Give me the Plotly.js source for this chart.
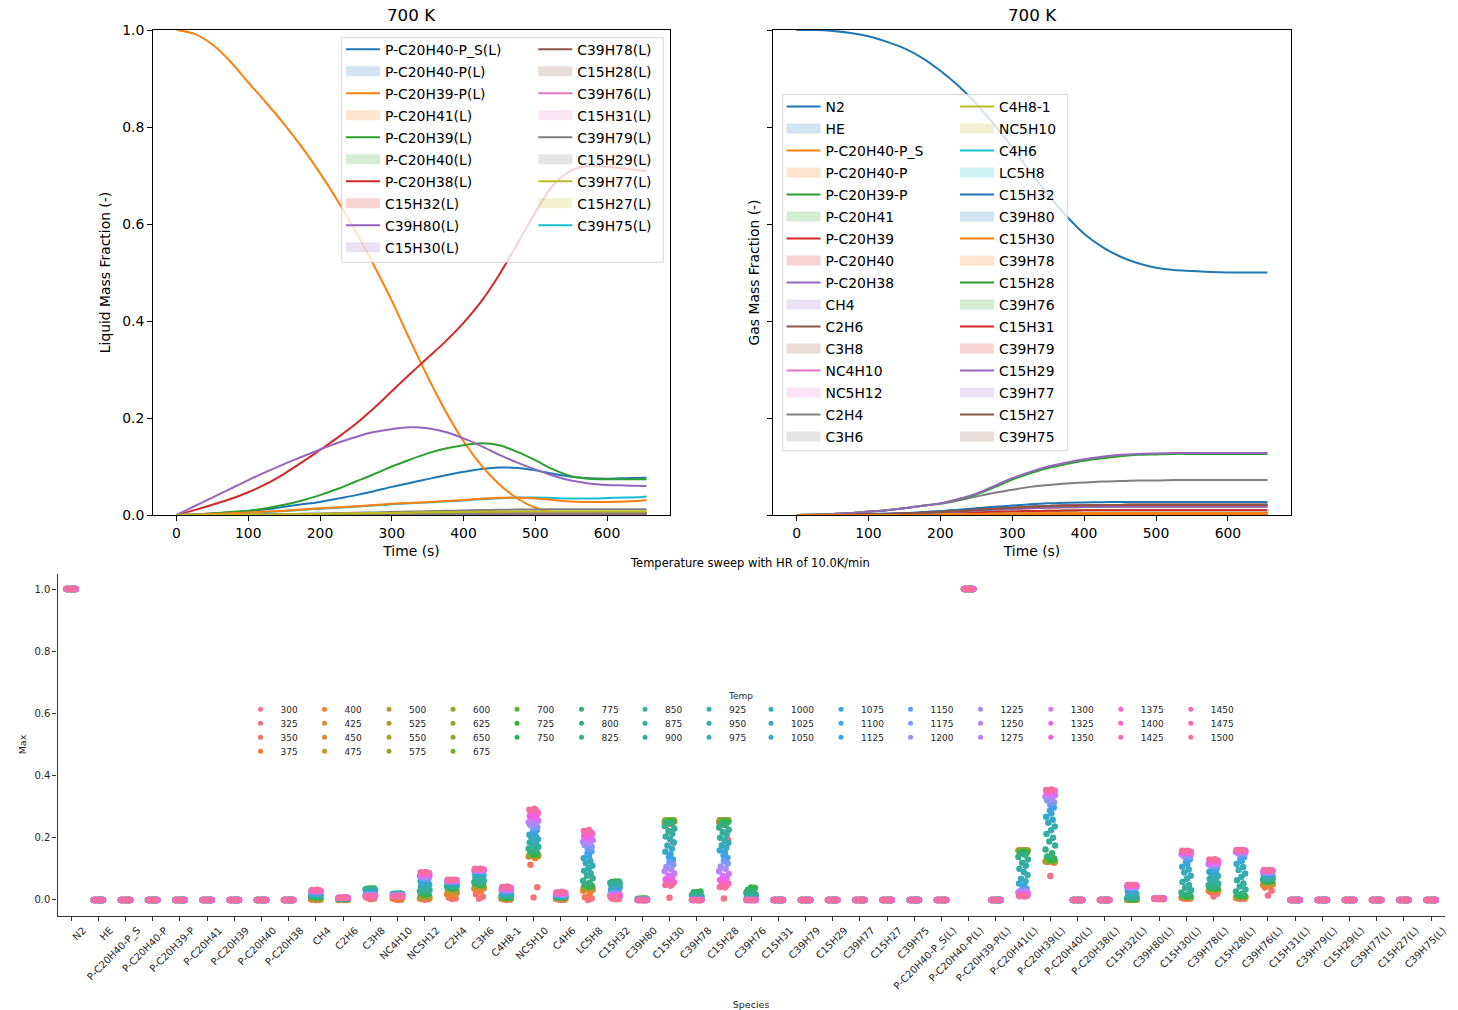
<!DOCTYPE html>
<html><head><meta charset="utf-8">
<script src="https://cdn.plot.ly/plotly-3.0.1.min.js"></script>
<style>html,body{margin:0;padding:0;background:#fff}#chart{width:1458px;height:1010px}</style>
</head><body><div id="chart"></div>
<script>
// ================= DATA =================
// --- top panels: time axis (s)
const timeS = [0,25,50,75,100,125,150,175,200,225,250,275,300,325,350,375,400,425,450,475,500,525,550,575,600,625,650,655];

const liqNames = ['P-C20H40-P_S(L)','P-C20H40-P(L)','P-C20H39-P(L)','P-C20H41(L)','P-C20H39(L)','P-C20H40(L)','P-C20H38(L)','C15H32(L)','C39H80(L)','C15H30(L)','C39H78(L)','C15H28(L)','C39H76(L)','C15H31(L)','C39H79(L)','C15H29(L)','C39H77(L)','C15H27(L)','C39H75(L)'];
const gasNames = ['N2','HE','P-C20H40-P_S','P-C20H40-P','P-C20H39-P','P-C20H41','P-C20H39','P-C20H40','P-C20H38','CH4','C2H6','C3H8','NC4H10','NC5H12','C2H4','C3H6','C4H8-1','NC5H10','C4H6','LC5H8','C15H32','C39H80','C15H30','C39H78','C15H28','C39H76','C15H31','C39H79','C15H29','C39H77','C15H27','C39H75'];

// liquid mass fraction curves (700 K)
const liqBlue = [0,0.001,0.003,0.005,0.008,0.012,0.017,0.022,0.027,0.034,0.041,0.049,0.058,0.066,0.074,0.082,0.089,0.095,0.098,0.097,0.092,0.085,0.079,0.076,0.075,0.076,0.077,0.077];
const liqOrangeBig = [1.0,0.992,0.97,0.935,0.892,0.85,0.806,0.758,0.705,0.647,0.584,0.515,0.442,0.362,0.285,0.214,0.152,0.102,0.063,0.034,0.015,0.005,0.001,0,0,0,0,0];
const liqGreen = [0,0.001,0.0034,0.006,0.009,0.014,0.021,0.03,0.041,0.054,0.069,0.084,0.1,0.114,0.127,0.137,0.144,0.148,0.144,0.13,0.113,0.094,0.08,0.075,0.0737,0.0735,0.0735,0.0735];
const liqRed = [0,0.01,0.021,0.033,0.047,0.064,0.085,0.109,0.134,0.16,0.188,0.22,0.255,0.29,0.324,0.358,0.396,0.441,0.496,0.559,0.624,0.68,0.71,0.72,0.718,0.714,0.71,0.709];
const liqPurple = [0,0.018,0.036,0.054,0.072,0.089,0.105,0.12,0.135,0.149,0.161,0.171,0.177,0.181,0.179,0.171,0.158,0.142,0.124,0.108,0.094,0.081,0.071,0.065,0.062,0.061,0.06,0.06];
const liqGray = [0,0,0.0003,0.0006,0.001,0.0015,0.002,0.0026,0.0033,0.004,0.0047,0.0054,0.0062,0.007,0.0078,0.0086,0.0094,0.0101,0.0107,0.0112,0.0115,0.0117,0.0118,0.0119,0.012,0.012,0.012,0.012];
const liqOlive = [0,0,0.0002,0.0004,0.0007,0.001,0.0014,0.0018,0.0022,0.0027,0.0032,0.0037,0.0042,0.0047,0.0052,0.0057,0.0061,0.0065,0.0068,0.007,0.0071,0.0072,0.0072,0.0072,0.0073,0.0073,0.0073,0.0073];
const liqCyan = [0,0.0008,0.0018,0.003,0.0045,0.0063,0.0082,0.0105,0.0128,0.015,0.0172,0.0195,0.022,0.024,0.026,0.028,0.03,0.0325,0.0345,0.036,0.036,0.035,0.034,0.034,0.035,0.036,0.037,0.038];
const liqOrangeSmall = [0,0.001,0.002,0.0035,0.005,0.007,0.009,0.0115,0.014,0.016,0.018,0.0205,0.023,0.025,0.027,0.029,0.031,0.0335,0.0355,0.0355,0.034,0.031,0.028,0.027,0.027,0.028,0.03,0.031];
const liqTiny = [0,0,0,0.0001,0.0002,0.0003,0.0004,0.0006,0.0008,0.001,0.0012,0.0014,0.0016,0.0018,0.002,0.0022,0.0024,0.0026,0.0028,0.003,0.0031,0.0032,0.0033,0.0033,0.0034,0.0034,0.0034,0.0034];

// gas mass fraction curves (700 K)
const gasN2 = [1,0.9998,0.998,0.994,0.987,0.976,0.962,0.942,0.916,0.885,0.848,0.805,0.758,0.708,0.66,0.617,0.58,0.553,0.533,0.519,0.51,0.505,0.503,0.501,0.5,0.5,0.5,0.5];
const gasPurple = [0,0.001,0.002,0.004,0.007,0.01,0.014,0.019,0.024,0.033,0.044,0.06,0.076,0.089,0.1,0.108,0.115,0.12,0.124,0.126,0.127,0.128,0.128,0.128,0.128,0.128,0.128,0.128];
const gasGreen = [0,0.001,0.002,0.004,0.007,0.01,0.014,0.019,0.024,0.032,0.042,0.057,0.073,0.086,0.097,0.105,0.112,0.117,0.121,0.124,0.125,0.126,0.126,0.126,0.126,0.126,0.126,0.126];
const gasGray = [0,0.001,0.002,0.004,0.007,0.01,0.014,0.019,0.023,0.03,0.038,0.046,0.052,0.058,0.062,0.065,0.067,0.069,0.07,0.071,0.071,0.072,0.072,0.072,0.072,0.072,0.072,0.072];
const gasA = [0,0,0.0005,0.001,0.002,0.003,0.004,0.006,0.008,0.011,0.014,0.017,0.0195,0.022,0.024,0.0255,0.026,0.0265,0.027,0.027,0.027,0.027,0.027,0.027,0.027,0.027,0.027,0.027];
const gasB = [0,0,0.0004,0.0008,0.0015,0.0023,0.0031,0.0045,0.006,0.0083,0.0107,0.013,0.015,0.0168,0.0183,0.0194,0.0201,0.0205,0.0208,0.021,0.021,0.021,0.021,0.021,0.021,0.021,0.021,0.021];
const gasC = [0,0,0.0003,0.0006,0.0012,0.0019,0.0025,0.0037,0.005,0.0068,0.0088,0.0107,0.0123,0.0137,0.0149,0.0158,0.0164,0.0167,0.0169,0.017,0.017,0.017,0.017,0.017,0.017,0.017,0.017,0.017];
const gasD = [0,0,0.0002,0.0004,0.0007,0.0011,0.0015,0.0022,0.003,0.004,0.0052,0.0063,0.0072,0.008,0.0087,0.0092,0.0096,0.0098,0.0099,0.01,0.01,0.01,0.01,0.01,0.01,0.01,0.01,0.01];
const gasTiny = [0,0,0.0001,0.0002,0.0003,0.0004,0.0006,0.0009,0.0012,0.0016,0.0021,0.0025,0.0029,0.0032,0.0035,0.0037,0.0038,0.0039,0.004,0.004,0.004,0.004,0.004,0.004,0.004,0.004,0.004,0.004];
const gasZero = [0,0,0,0,0,0,0,0,0,0,0,0,0,0,0,0,0,0,0,0,0,0,0,0,0,0,0,0];

const liqCurves = [liqBlue,liqOrangeBig,liqGreen,liqRed,liqPurple,liqTiny,liqTiny,liqGray,liqOlive,liqCyan,liqTiny,liqOrangeSmall,liqTiny,liqTiny,liqTiny,liqTiny,liqTiny,liqTiny,liqOlive];
const gasCurves = [gasN2,gasZero,gasZero,gasZero,gasZero,gasZero,gasZero,gasZero,gasZero,
  gasTiny,gasTiny,gasC,gasD,gasD,gasC,gasB,gasTiny,gasGray,gasTiny,gasB,gasA,gasTiny,gasGreen,gasB,gasPurple,gasB,
  gasZero,gasZero,gasZero,gasZero,gasZero,gasZero];

// --- bottom panel: temperature sweep, max mass fraction per species
const temps = [300,325,350,375,400,425,450,475,500,525,550,575,600,625,650,675,700,725,750,775,800,825,850,875,900,925,950,975,1000,1025,1050,1075,1100,1125,1150,1175,1200,1225,1250,1275,1300,1325,1350,1375,1400,1425,1450,1475,1500];
const species = gasNames.concat(liqNames);

const maxOne = [1,1,1,1, 1,1,1,1, 1,1,1,1, 1,1,1,1,
  1,1,1, 1,1,1, 1,1,1, 1,1,1, 1,1,1, 1,1,1, 1,1,1, 1,1,1, 1,1,1, 1,1,1, 1,1,1];
const maxZero = [0,0,0,0, 0,0,0,0, 0,0,0,0, 0,0,0,0,
  0,0,0, 0,0,0, 0,0,0, 0,0,0, 0,0,0, 0,0,0, 0,0,0, 0,0,0, 0,0,0, 0,0,0, 0,0,0];
const maxCH4 = [0,0,0.0005,0.001, 0.0015,0.002,0.0025,0.003, 0.0035,0.004,0.0045,0.005, 0.0055,0.006,0.0065,0.007,
  0.0075,0.008,0.009, 0.01,0.011,0.012, 0.013,0.014,0.015, 0.016,0.017,0.018, 0.019,0.02,0.021, 0.022,0.023,0.024, 0.025,0.0255,0.026, 0.027,0.0275,0.028, 0.0285,0.029,0.0295, 0.03,0.0305,0.031, 0.0315,0.032,0.0325];
const maxC2H6 = [0,0,0,0, 0,0.0005,0.0005,0.001, 0.001,0.0015,0.0015,0.002, 0.002,0.0025,0.0025,0.003,
  0.003,0.0035,0.0035, 0.004,0.004,0.0045, 0.0045,0.005,0.005, 0.0052,0.0054,0.0056, 0.0058,0.006,0.006, 0.0062,0.0062,0.0064, 0.0064,0.0065,0.0066, 0.0066,0.0067,0.0068, 0.0068,0.0069,0.007, 0.007,0.007,0.0071, 0.0071,0.0072,0.0072];
const maxC3H8 = [0.002,0.004,0.006,0.008, 0.011,0.014,0.017,0.019, 0.022,0.025,0.027,0.029, 0.031,0.033,0.034,0.035,
  0.036,0.037,0.037, 0.036,0.035,0.034, 0.032,0.031,0.029, 0.028,0.026,0.025, 0.023,0.022,0.021, 0.02,0.019,0.018, 0.017,0.016,0.016, 0.015,0.014,0.014, 0.013,0.013,0.012, 0.012,0.011,0.011, 0.011,0.01,0.01];
const maxNC4H10 = [0,0.001,0.002,0.003, 0.005,0.007,0.009,0.011, 0.013,0.014,0.015,0.016, 0.017,0.018,0.019,0.0195,
  0.02,0.02,0.02, 0.0198,0.0196,0.0194, 0.019,0.0188,0.0186, 0.018,0.0178,0.0176, 0.017,0.0168,0.0165, 0.016,0.0158,0.0155, 0.015,0.0148,0.0145, 0.014,0.0138,0.0135, 0.013,0.0128,0.0126, 0.0124,0.0122,0.012, 0.012,0.0118,0.0116];
const maxNC5H12 = [0.001,0.002,0.003,0.004, 0.005,0.006,0.007,0.008, 0.009,0.01,0.011,0.012, 0.013,0.014,0.015,0.016,
  0.018,0.019,0.02, 0.022,0.025,0.028, 0.032,0.036,0.04, 0.044,0.047,0.05, 0.053,0.056,0.059, 0.062,0.064,0.066, 0.068,0.07,0.072, 0.074,0.076,0.078, 0.08,0.082,0.083, 0.085,0.086,0.087, 0.088,0.089,0.09];
const maxC2H4 = [0.003,0.005,0.008,0.012, 0.018,0.022,0.025,0.027, 0.029,0.031,0.032,0.033, 0.034,0.035,0.036,0.036,
  0.037,0.038,0.039, 0.04,0.042,0.044, 0.046,0.048,0.05, 0.051,0.052,0.053, 0.054,0.055,0.056, 0.057,0.058,0.058, 0.059,0.06,0.06, 0.061,0.061,0.062, 0.062,0.063,0.063, 0.063,0.064,0.064, 0.064,0.065,0.065];
const maxC3H6 = [0.004,0.01,0.018,0.028, 0.036,0.038,0.04,0.042, 0.043,0.044,0.045,0.046, 0.046,0.047,0.047,0.048,
  0.048,0.049,0.05, 0.052,0.055,0.058, 0.062,0.066,0.07, 0.074,0.077,0.08, 0.083,0.085,0.087, 0.089,0.09,0.091, 0.092,0.093,0.094, 0.095,0.095,0.096, 0.096,0.097,0.097, 0.098,0.098,0.099, 0.099,0.1,0.1];
const maxC4H8_1 = [0,0.001,0.002,0.003, 0.004,0.004,0.005,0.005, 0.005,0.005,0.006,0.006, 0.006,0.006,0.006,0.006,
  0.006,0.007,0.008, 0.009,0.011,0.013, 0.015,0.017,0.019, 0.02,0.021,0.022, 0.023,0.024,0.025, 0.026,0.027,0.028, 0.029,0.03,0.031, 0.032,0.033,0.034, 0.035,0.036,0.037, 0.038,0.039,0.04, 0.041,0.042,0.043];
const maxNC5H10 = [0.008,0.041,0.113,0.135, 0.14,0.141,0.142,0.142, 0.142,0.143,0.143,0.143, 0.143,0.143,0.144,0.145,
  0.146,0.148,0.15, 0.155,0.16,0.165, 0.17,0.175,0.18, 0.185,0.19,0.195, 0.2,0.205,0.21, 0.215,0.22,0.225, 0.23,0.235,0.24, 0.245,0.25,0.255, 0.26,0.265,0.27, 0.275,0.28,0.285, 0.288,0.29,0.293];
const maxC4H6 = [0,0.001,0.002,0.003, 0.003,0.004,0.004,0.005, 0.005,0.005,0.006,0.006, 0.006,0.007,0.007,0.007,
  0.008,0.008,0.009, 0.009,0.01,0.01, 0.011,0.011,0.012, 0.012,0.013,0.013, 0.014,0.014,0.015, 0.015,0.016,0.016, 0.017,0.017,0.018, 0.019,0.019,0.02, 0.021,0.021,0.022, 0.023,0.023,0.024, 0.025,0.025,0.026];
const maxLC5H8 = [0,0.005,0.0085,0.02, 0.03,0.033,0.035,0.037, 0.038,0.039,0.04,0.04, 0.041,0.041,0.042,0.042,
  0.043,0.044,0.046, 0.05,0.055,0.062, 0.07,0.078,0.086, 0.094,0.102,0.11, 0.118,0.126,0.134, 0.142,0.15,0.157, 0.164,0.17,0.176, 0.182,0.187,0.192, 0.197,0.201,0.205, 0.209,0.213,0.216, 0.219,0.222,0.225];
const maxC15H32 = [0.002,0.003,0.005,0.008, 0.012,0.016,0.02,0.025, 0.03,0.035,0.04,0.045, 0.049,0.052,0.055,0.057,
  0.058,0.059,0.059, 0.058,0.057,0.055, 0.053,0.051,0.048, 0.045,0.042,0.039, 0.036,0.033,0.031, 0.028,0.026,0.024, 0.022,0.02,0.019, 0.017,0.016,0.015, 0.014,0.013,0.012, 0.011,0.01,0.009, 0.008,0.008,0.007];
const maxC39H80 = [0,0,0,0, 0,0,0,0, 0.001,0.001,0.002,0.002, 0.003,0.003,0.004,0.004,
  0.005,0.005,0.004, 0.004,0.003,0.003, 0.002,0.002,0.002, 0.001,0.001,0.001, 0.001,0.001,0, 0,0,0, 0,0,0, 0,0,0, 0,0,0, 0,0,0, 0,0,0];
const maxC15H30 = [0.007,0.185,0.24,0.248, 0.25,0.252,0.253,0.254, 0.255,0.255,0.256,0.256, 0.256,0.256,0.255,0.255,
  0.254,0.253,0.252, 0.25,0.245,0.238, 0.23,0.222,0.213, 0.204,0.195,0.185, 0.175,0.165,0.155, 0.146,0.138,0.13, 0.122,0.114,0.106, 0.099,0.092,0.085, 0.078,0.072,0.066, 0.061,0.057,0.053, 0.05,0.048,0.046];
const maxC39H78 = [0,0,0,0, 0,0.001,0.002,0.003, 0.005,0.007,0.009,0.011, 0.013,0.015,0.017,0.019,
  0.022,0.025,0.027, 0.025,0.02,0.016, 0.012,0.009,0.007, 0.005,0.004,0.003, 0.002,0.002,0.001, 0.001,0.001,0, 0,0,0, 0,0,0, 0,0,0, 0,0,0, 0,0,0];
const maxC15H28 = [0.005,0.195,0.24,0.248, 0.251,0.253,0.254,0.255, 0.256,0.256,0.256,0.256, 0.256,0.256,0.255,0.254,
  0.253,0.252,0.25, 0.246,0.24,0.233, 0.226,0.218,0.21, 0.2,0.192,0.184, 0.176,0.168,0.16, 0.152,0.144,0.136, 0.126,0.117,0.108, 0.1,0.092,0.084, 0.077,0.07,0.064, 0.058,0.053,0.049, 0.045,0.042,0.04];
const maxC39H76 = [0,0,0,0.001, 0.002,0.004,0.006,0.008, 0.011,0.014,0.017,0.02, 0.024,0.028,0.032,0.036,
  0.039,0.04,0.038, 0.033,0.027,0.022, 0.017,0.013,0.01, 0.007,0.005,0.004, 0.003,0.002,0.001, 0.001,0,0, 0,0,0, 0,0,0, 0,0,0, 0,0,0, 0,0,0];
const maxPC20H41_L = [0.159,0.159,0.159,0.159, 0.159,0.159,0.159,0.159, 0.159,0.159,0.158,0.158, 0.158,0.157,0.157,0.156,
  0.155,0.154,0.152, 0.15,0.145,0.138, 0.13,0.12,0.11, 0.1,0.09,0.08, 0.068,0.06,0.053, 0.045,0.04,0.036, 0.033,0.03,0.028, 0.026,0.024,0.022, 0.02,0.018,0.017, 0.015,0.014,0.013, 0.012,0.012,0.011];
const maxPC20H39_L = [0.077,0.12,0.122,0.123, 0.124,0.124,0.125,0.125, 0.125,0.125,0.125,0.125, 0.125,0.126,0.126,0.127,
  0.128,0.13,0.133, 0.14,0.15,0.162, 0.175,0.188,0.2, 0.212,0.224,0.236, 0.248,0.258,0.268, 0.278,0.288,0.297, 0.306,0.314,0.321, 0.327,0.332,0.337, 0.341,0.344,0.347, 0.349,0.351,0.352, 0.353,0.354,0.355];
const maxC15H32_L = [0.001,0.001,0.001,0.001, 0.001,0.001,0.001,0.001, 0.001,0.001,0.001,0.002, 0.002,0.002,0.002,0.002,
  0.002,0.003,0.003, 0.004,0.005,0.006, 0.008,0.01,0.012, 0.014,0.017,0.02, 0.023,0.026,0.029, 0.032,0.034,0.036, 0.038,0.04,0.041, 0.042,0.043,0.044, 0.045,0.046,0.046, 0.047,0.047,0.048, 0.048,0.048,0.049];
const maxC39H80_L = [0.002,0.002,0.003,0.003, 0.003,0.003,0.004,0.004, 0.004,0.004,0.004,0.004, 0.005,0.005,0.005,0.005,
  0.005,0.005,0.005, 0.005,0.005,0.005, 0.005,0.005,0.005, 0.005,0.005,0.005, 0.005,0.005,0.005, 0.005,0.005,0.005, 0.005,0.005,0.005, 0.005,0.005,0.005, 0.005,0.005,0.005, 0.005,0.005,0.005, 0.005,0.005,0.005];
const maxC15H30_L = [0.003,0.004,0.005,0.006, 0.007,0.008,0.008,0.009, 0.009,0.01,0.01,0.01, 0.01,0.011,0.011,0.011,
  0.011,0.012,0.013, 0.015,0.019,0.024, 0.031,0.039,0.048, 0.058,0.068,0.078, 0.088,0.098,0.107, 0.116,0.124,0.13, 0.135,0.139,0.142, 0.145,0.147,0.149, 0.151,0.152,0.153, 0.154,0.155,0.156, 0.157,0.158,0.158];
const maxC39H78_L = [0.011,0.02,0.025,0.028, 0.03,0.031,0.032,0.033, 0.034,0.034,0.035,0.035, 0.036,0.036,0.036,0.037,
  0.037,0.037,0.038, 0.04,0.043,0.047, 0.052,0.057,0.062, 0.067,0.072,0.077, 0.082,0.087,0.091, 0.095,0.099,0.103, 0.106,0.109,0.111, 0.113,0.115,0.117, 0.119,0.121,0.123, 0.125,0.126,0.128, 0.129,0.13,0.131];
const maxC15H28_L = [0.003,0.004,0.005,0.006, 0.007,0.008,0.009,0.009, 0.01,0.01,0.011,0.011, 0.011,0.012,0.012,0.012,
  0.013,0.013,0.014, 0.017,0.021,0.027, 0.034,0.043,0.053, 0.063,0.074,0.085, 0.096,0.106,0.116, 0.125,0.132,0.138, 0.143,0.147,0.15, 0.152,0.154,0.155, 0.156,0.157,0.158, 0.159,0.159,0.16, 0.16,0.161,0.161];
const maxC39H76_L = [0.014,0.03,0.04,0.046, 0.048,0.05,0.052,0.053, 0.054,0.055,0.056,0.057, 0.058,0.058,0.059,0.059,
  0.06,0.06,0.061, 0.062,0.064,0.066, 0.068,0.07,0.072, 0.074,0.076,0.078, 0.08,0.081,0.083, 0.084,0.085,0.086, 0.087,0.088,0.089, 0.09,0.091,0.092, 0.092,0.093,0.094, 0.094,0.095,0.095, 0.096,0.096,0.096];

const maxBySpecies = [
  maxOne, maxZero, maxZero, maxZero, maxZero, maxZero, maxZero, maxZero, maxZero,
  maxCH4, maxC2H6, maxC3H8, maxNC4H10, maxNC5H12, maxC2H4, maxC3H6, maxC4H8_1, maxNC5H10, maxC4H6, maxLC5H8,
  maxC15H32, maxC39H80, maxC15H30, maxC39H78, maxC15H28, maxC39H76,
  maxZero, maxZero, maxZero, maxZero, maxZero, maxZero,
  maxZero, maxOne, maxZero, maxPC20H41_L, maxPC20H39_L, maxZero, maxZero,
  maxC15H32_L, maxC39H80_L, maxC15H30_L, maxC39H78_L, maxC15H28_L, maxC39H76_L,
  maxZero, maxZero, maxZero, maxZero, maxZero, maxZero];

// ================= STYLE HELPERS =================
const W = 1458, H = 1010;
const FONT = 'DejaVu Sans, Liberation Sans, sans-serif';
const tab10 = ['#1f77b4','#ff7f0e','#2ca02c','#d62728','#9467bd','#8c564b','#e377c2','#7f7f7f','#bcbd22','#17becf'];
function fade(hex, a) {
  const r = parseInt(hex.slice(1,3),16), g = parseInt(hex.slice(3,5),16), b = parseInt(hex.slice(5,7),16);
  return 'rgba(' + r + ',' + g + ',' + b + ',' + a + ')';
}
const px = x => x / W;
const py = y => 1 - y / H;

// seaborn husl palette
const HM = [[3.2406,-1.5372,-0.4986],[-0.9689,1.8758,0.0415],[0.0557,-0.2040,1.0570]];
function maxChroma(L, Hh) {
  const hrad = Hh * Math.PI / 180, sinH = Math.sin(hrad), cosH = Math.cos(hrad);
  const sub1 = Math.pow(L + 16, 3) / 1560896.0;
  const sub2 = sub1 > 0.008856 ? sub1 : L / 903.3;
  let result = Infinity;
  for (const row of HM) {
    const m1 = row[0], m2 = row[1], m3 = row[2];
    const top = (0.99915*m1 + 1.05122*m2 + 1.14460*m3) * sub2;
    const rb = 0.86330*m3 - 0.17266*m2, lb = 0.12949*m3 - 0.38848*m1;
    const bottom = (rb*sinH + lb*cosH) * sub2;
    for (const t of [0, 1]) {
      const C = L * (top - 1.05122*t) / (bottom + 0.17266*sinH*t);
      if (C > 0 && C < result) result = C;
    }
  }
  return result;
}
function husl2hex(Hh, S, L) {
  const C = maxChroma(L, Hh) / 100 * S;
  const hr = Hh * Math.PI / 180, U = Math.cos(hr)*C, V = Math.sin(hr)*C;
  const t = (L + 16) / 116;
  const Y = Math.pow(t,3) > 0.008856 ? Math.pow(t,3) : (116*t - 16) / 903.3;
  const vu = U/(13*L) + 0.19784, vv = V/(13*L) + 0.46834;
  const X = 0 - (9*Y*vu) / ((vu - 4)*vv - vu*vv);
  const Z = (9*Y - 15*vv*Y - vv*X) / (3*vv);
  const rgb = HM.map(r => r[0]*X + r[1]*Y + r[2]*Z).map(c => c <= 0.0031308 ? 12.92*c : 1.055*Math.pow(c, 1/2.4) - 0.055);
  return 'rgb(' + rgb.map(c => Math.round(Math.min(1, Math.max(0, c))*255)).join(',') + ')';
}
const tempColors = temps.map((_, i) => husl2hex(((i / temps.length + 0.01) % 1) * 359, 0.9*99, 0.65*99));

// ================= TRACES =================
const traces = [];
liqNames.forEach((n, k) => traces.push({
  type: 'scatter', mode: 'lines', x: timeS, y: liqCurves[k], xaxis: 'x', yaxis: 'y',
  line: {color: tab10[k % 10], width: 2, shape: 'spline', smoothing: 0.8}, showlegend: false, hoverinfo: 'skip'
}));
gasNames.forEach((n, k) => traces.push({
  type: 'scatter', mode: 'lines', x: timeS, y: gasCurves[k], xaxis: 'x2', yaxis: 'y2',
  line: {color: tab10[k % 10], width: 2, shape: 'spline', smoothing: 0.8}, showlegend: false, hoverinfo: 'skip'
}));

// legend-only entries (line / shaded band alternating, as in the reference)
function legendEntry(name, k, legendId, xa, ya) {
  const c = tab10[Math.floor(k / 2) % 10];
  const base = {type: 'scatter', x: [null], y: [null], xaxis: xa, yaxis: ya, name: name,
    legend: legendId, legendgroup: legendId + '_' + k, showlegend: true, hoverinfo: 'skip'};
  if (k % 2 === 0) return Object.assign(base, {mode: 'lines', line: {color: c, width: 2}});
  return Object.assign(base, {mode: 'lines', line: {color: fade(c, 0.2), width: 14}});
}
liqNames.forEach((n, k) => traces.push(legendEntry(n, k, k < 10 ? 'legend' : 'legend2', 'x', 'y')));
gasNames.forEach((n, k) => traces.push(legendEntry(n, k, k < 16 ? 'legend3' : 'legend4', 'x2', 'y2')));

// strip plot: one box trace (points only) per temperature
const pointPattern = [0, 0.55, -0.45, 0.25, -0.7, 0.7, -0.15, 0.4, -0.55, 0.1, 0.65, -0.3, 0.35, -0.6, 0.15, -0.05, 0.5];
temps.forEach((T, i) => {
  traces.push({
    type: 'box', x: species, y: maxBySpecies.map(arr => arr[i]), xaxis: 'x3', yaxis: 'y3',
    orientation: 'v', boxpoints: 'all', jitter: 0, pointpos: pointPattern[i % pointPattern.length],
    width: 0.5, fillcolor: 'rgba(0,0,0,0)', line: {width: 0, color: 'rgba(0,0,0,0)'}, whiskerwidth: 0,
    marker: {color: tempColors[i], size: 6.5, line: {width: 0}},
    showlegend: false, hoverinfo: 'skip', name: String(T)
  });
});

// strip legend (Temp), column-major like the reference
const legColX = [260.5, 324.5, 389, 453, 517, 581.5, 645, 709, 771, 841, 910.5, 980.5, 1050.8, 1120.8, 1190.8];
const legRowY = [709.3, 723.3, 737.3, 751.3];
const layoutLegends = {};
temps.forEach((T, i) => {
  let c, r;
  if (i < 16) { c = Math.floor(i / 4); r = i % 4; } else { c = 4 + Math.floor((i - 16) / 3); r = (i - 16) % 3; }
  const id = 'legend' + (5 + i);
  traces.push({type: 'scatter', mode: 'markers', x: [null], y: [null], xaxis: 'x3', yaxis: 'y3',
    name: String(T), legend: id, showlegend: true, hoverinfo: 'skip',
    marker: {color: tempColors[i], size: 5}});
  layoutLegends[id] = {x: px(legColX[c] - 20), xanchor: 'left', y: py(legRowY[r]), yanchor: 'middle',
    bgcolor: 'rgba(0,0,0,0)', borderwidth: 0, font: {family: FONT, size: 9, color: '#262626'}, itemwidth: 30};
});

// ================= LAYOUT =================
const topLegend = (xp, ytop) => ({x: px(xp), xanchor: 'left', y: py(ytop), yanchor: 'top',
  bgcolor: 'rgba(0,0,0,0)', borderwidth: 0, tracegroupgap: 0.93, itemwidth: 34,
  font: {family: FONT, size: 13.9, color: '#000'}});

const topAxisX = (dom, anchor) => ({domain: dom, anchor: anchor, range: [-32.75, 687.75],
  tickvals: [0,100,200,300,400,500,600], showline: true, mirror: true, linecolor: '#000', linewidth: 1,
  ticks: 'outside', ticklen: 5, tickwidth: 1, tickcolor: '#000', showgrid: false, zeroline: false,
  tickfont: {family: FONT, size: 13.9, color: '#000'},
  title: {text: 'Time (s)', font: {family: FONT, size: 13.9, color: '#000'}, standoff: 6}});
const topDomY = [py(515), py(30)];

const layout = Object.assign({
  width: W, height: H, margin: {l: 0, r: 0, t: 0, b: 0},
  paper_bgcolor: '#fff', plot_bgcolor: '#fff', showlegend: true, boxmode: 'overlay',
  font: {family: FONT, color: '#000'},
  xaxis: topAxisX([px(153), px(670)], 'y'),
  yaxis: {domain: topDomY, anchor: 'x', range: [0, 1], tickvals: [0,0.2,0.4,0.6,0.8,1.0], tickformat: '.1f',
    showline: true, mirror: true, linecolor: '#000', linewidth: 1, ticks: 'outside', ticklen: 5, tickwidth: 1,
    tickcolor: '#000', showgrid: false, zeroline: false, tickfont: {family: FONT, size: 13.9, color: '#000'},
    title: {text: 'Liquid Mass Fraction (-)', font: {family: FONT, size: 13.9, color: '#000'}, standoff: 8}},
  xaxis2: topAxisX([px(773), px(1291)], 'y2'),
  yaxis2: {domain: topDomY, anchor: 'x2', range: [0, 1], tickvals: [0,0.2,0.4,0.6,0.8,1.0], showticklabels: false,
    showline: true, mirror: true, linecolor: '#000', linewidth: 1, ticks: 'outside', ticklen: 5, tickwidth: 1,
    tickcolor: '#000', showgrid: false, zeroline: false,
    title: {text: 'Gas Mass Fraction (-)', font: {family: FONT, size: 13.9, color: '#000'}, standoff: 4}},
  xaxis3: {domain: [px(57.5), px(1444.7)], anchor: 'y3', type: 'category', categoryorder: 'array',
    categoryarray: species, range: [-0.5, 50.5], showline: true, linecolor: '#333', linewidth: 1.2,
    ticks: 'outside', ticklen: 4, tickcolor: '#333', tickangle: -45, ticklabelshift: 12, showgrid: false, zeroline: false,
    tickfont: {family: FONT, size: 10, color: '#262626'},
    title: {text: 'Species', font: {family: FONT, size: 9.5, color: '#262626'}, standoff: 10}},
  yaxis3: {domain: [py(915.5), py(573.5)], anchor: 'x3', range: [-0.05, 1.05], tickvals: [0,0.2,0.4,0.6,0.8,1.0],
    tickformat: '.1f', showline: true, linecolor: '#333', linewidth: 1.2, ticks: 'outside', ticklen: 4,
    tickcolor: '#333', showgrid: false, zeroline: false, tickfont: {family: FONT, size: 10, color: '#262626'},
    title: {text: 'Max', font: {family: FONT, size: 9.5, color: '#262626'}, standoff: 6}},
  legend: topLegend(341, 33.8),
  legend2: topLegend(533.3, 33.8),
  legend3: topLegend(781.5, 90.9),
  legend4: topLegend(955, 90.9),
  shapes: [
    {type: 'rect', xref: 'paper', yref: 'paper', x0: px(341.7), x1: px(663.3), y0: py(262.3), y1: py(37.7),
      fillcolor: 'rgba(255,255,255,0.8)', line: {color: 'rgba(204,204,204,0.8)', width: 1}, layer: 'above'},
    {type: 'rect', xref: 'paper', yref: 'paper', x0: px(782.7), x1: px(1067.7), y0: py(450.7), y1: py(94.6),
      fillcolor: 'rgba(255,255,255,0.8)', line: {color: 'rgba(204,204,204,0.8)', width: 1}, layer: 'above'}
  ],
  annotations: [
    {text: '700 K', xref: 'paper', yref: 'paper', x: px(411.5), y: py(15), xanchor: 'center', yanchor: 'middle',
      showarrow: false, font: {family: FONT, size: 16.7, color: '#000'}},
    {text: '700 K', xref: 'paper', yref: 'paper', x: px(1032), y: py(15), xanchor: 'center', yanchor: 'middle',
      showarrow: false, font: {family: FONT, size: 16.7, color: '#000'}},
    {text: 'Temperature sweep with HR of 10.0K/min', xref: 'paper', yref: 'paper', x: px(750), y: py(563),
      xanchor: 'center', yanchor: 'middle', showarrow: false, font: {family: FONT, size: 11.5, color: '#000'}},
    {text: 'Temp', xref: 'paper', yref: 'paper', x: px(740), y: py(695.7), xanchor: 'center', yanchor: 'middle',
      showarrow: false, font: {family: FONT, size: 9, color: '#262626'}}
  ]
}, layoutLegends);

Plotly.newPlot('chart', traces, layout, {displayModeBar: false, responsive: false});
</script>
</body></html>
